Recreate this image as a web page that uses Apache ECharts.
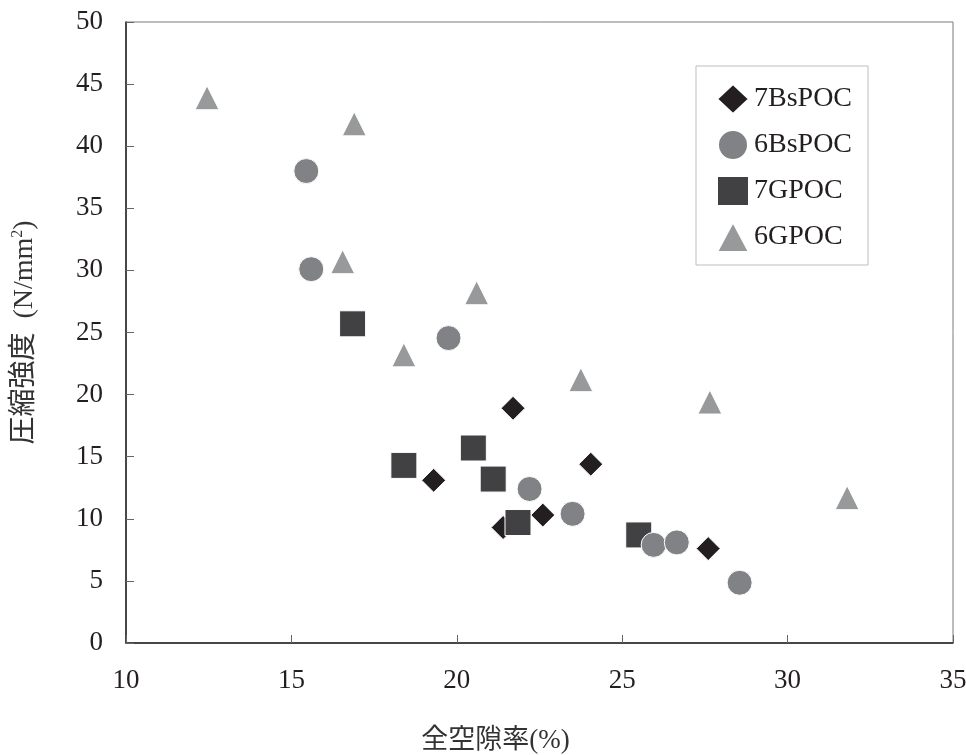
<!DOCTYPE html>
<html>
<head>
<meta charset="utf-8">
<script src="https://cdn.jsdelivr.net/npm/echarts@6/dist/echarts.min.js"></script>
<style>
  html, body { margin: 0; padding: 0; background: #fff; }
  #chart { width: 966px; height: 755px; }
</style>
</head>
<body>
<div id="chart"></div>
<script>
// Porosity (%) vs compressive strength (N/mm2) for each mix
const seriesNames = ['7BsPOC', '6BsPOC', '7GPOC', '6GPOC'];

const bs7 = [[21.7, 18.9], [19.3, 13.1], [24.05, 14.4], [22.6, 10.3], [21.4, 9.3], [27.6, 7.6]];
const bs6 = [[15.45, 38.0], [15.6, 30.1], [19.75, 24.55], [22.2, 12.4], [23.5, 10.4], [25.95, 7.9], [26.65, 8.1], [28.55, 4.85]];
const g7 = [[16.85, 25.7], [18.4, 14.3], [20.5, 15.7], [21.1, 13.2], [21.85, 9.7], [25.5, 8.7]];
const g6 = [[12.45, 43.9], [16.9, 41.8], [16.55, 30.7], [20.6, 28.2], [18.4, 23.2], [23.75, 21.2], [27.65, 19.4], [31.8, 11.7]];

const xTicks = { min: 10, max: 35, interval: 5 };
const yTicks = { min: 0, max: 50, interval: 5 };

const serif = "'Liberation Serif', 'Noto Sans CJK JP', serif";
const ink = '#231f20';

const chart = echarts.init(document.getElementById('chart'), null, { renderer: 'canvas' });

function scatter(name, data, symbol, size, color, z) {
  return {
    name: name,
    type: 'scatter',
    data: data,
    symbol: symbol,
    symbolSize: size,
    z: z,
    itemStyle: { color: color, borderColor: '#ffffff', borderWidth: 1, opacity: 1 },
    emphasis: { disabled: true }
  };
}

chart.setOption({
  animation: false,
  backgroundColor: '#ffffff',
  grid: {
    left: 126, top: 22, right: 13, bottom: 112,
    outerBoundsMode: 'none',
    containLabel: false,
    show: true, borderColor: '#7a7a7a', borderWidth: 1, backgroundColor: 'transparent'
  },
  legend: {
    data: seriesNames,
    orient: 'vertical',
    left: 696, top: 66,
    padding: [17, 16, 12, 20],
    itemGap: 14,
    itemWidth: 32, itemHeight: 30,
    itemTextGap: 16,
    borderColor: '#bdbdbd', borderWidth: 1,
    textStyle: { fontFamily: serif, fontSize: 28, color: ink, lineHeight: 30 },
    selectedMode: false
  },
  xAxis: {
    type: 'value',
    min: xTicks.min, max: xTicks.max, interval: xTicks.interval,
    name: '全空隙率(%)',
    nameLocation: 'middle',
    nameGap: 84,
    nameTextStyle: { fontFamily: serif, fontSize: 27, color: '#333', padding: [0, 88, 0, 0] },
    axisLine: { show: true, lineStyle: { color: ink, width: 1.5 } },
    axisTick: { show: true, inside: true, length: 8, lineStyle: { color: '#666' } },
    axisLabel: { fontFamily: serif, fontSize: 27, color: ink, margin: 24 },
    splitLine: { show: false }
  },
  yAxis: {
    type: 'value',
    min: yTicks.min, max: yTicks.max, interval: yTicks.interval,
    name: '{b|圧縮強度  (N/mm}{s|2}{b|)}',
    nameLocation: 'middle',
    nameRotate: 90,
    nameGap: 86,
    nameTextStyle: {
      color: '#333',
      rich: {
        b: { fontFamily: serif, fontSize: 28, color: '#333', lineHeight: 30 },
        s: { fontFamily: serif, fontSize: 16, color: '#333', lineHeight: 30, verticalAlign: 'top', padding: [0, 0, 10, 0] }
      }
    },
    axisLine: { show: true, lineStyle: { color: ink, width: 1.5 } },
    axisTick: { show: true, inside: true, length: 8, lineStyle: { color: '#666' } },
    axisLabel: { fontFamily: serif, fontSize: 27, color: ink, margin: 23 },
    splitLine: { show: false }
  },
  series: [
    scatter('7BsPOC', bs7, 'diamond', [24, 24], '#231f20', 2),
    scatter('6BsPOC', bs6, 'circle', 25, '#808285', 5),
    scatter('7GPOC', g7, 'rect', 26, '#414042', 4),
    scatter('6GPOC', g6, 'triangle', [24, 24], '#98999b', 3)
  ]
});
</script>
</body>
</html>
